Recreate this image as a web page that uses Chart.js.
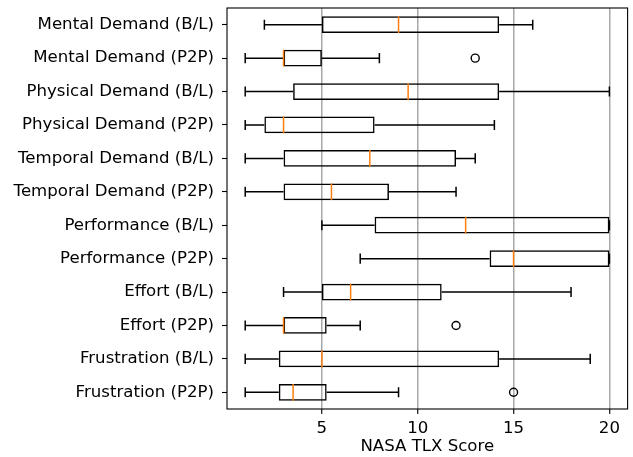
<!DOCTYPE html>
<html>
<head>
<meta charset="utf-8">
<script src="https://cdn.jsdelivr.net/npm/chart.js@4"></script>
<style>
  body { margin: 0; background: #fff; }
  #wrap { width: 633px; height: 457px; }
</style>
</head>
<body>
<div id="wrap"><canvas id="tlx-chart" width="633" height="457"></canvas></div>
<script>
// Box plot data (NASA TLX scores)
const categories = [
    'Mental Demand (B/L)', 'Mental Demand (P2P)',
    'Physical Demand (B/L)', 'Physical Demand (P2P)',
    'Temporal Demand (B/L)', 'Temporal Demand (P2P)',
    'Performance (B/L)', 'Performance (P2P)',
    'Effort (B/L)', 'Effort (P2P)',
    'Frustration (B/L)', 'Frustration (P2P)'
];
const whiskerLow  = [2, 1, 1, 1, 1, 1, 5, 7, 3, 1, 1, 1];
const q1          = [5, 3, 3.5, 2, 3, 3, 7.75, 13.75, 5, 3, 2.75, 2.75];
const medians     = [9, 3, 9.5, 3, 7.5, 5.5, 12.5, 15, 6.5, 3, 5, 3.5];
const q3          = [14.25, 5, 14.25, 7.75, 12, 8.5, 20, 20, 11.25, 5.25, 14.25, 5.25];
const whiskerHigh = [16, 8, 20, 14, 13, 12, 20, 20, 18, 7, 19, 9];
const outliers    = [[], [13], [], [], [], [], [], [], [], [12], [], [15]];
const xTicks      = [5, 10, 15, 20];

const FONT = 'DejaVu Sans';
const FONT_SIZE = 16.6;

// flatten outliers into points on the category axis
const outlierPoints = [];
outliers.forEach((vals, i) => {
    vals.forEach(v => outlierPoints.push({ x: v, y: categories[i] }));
});

// whiskers, caps, medians and the axes frame
const boxExtras = {
    id: 'boxExtras',
    afterDatasetsDraw(chart) {
        const ctx = chart.ctx;
        const xs = chart.scales.x;
        const ys = chart.scales.y;
        ctx.save();
        ctx.lineWidth = 1.5;
        categories.forEach((c, i) => {
            const yc = ys.getPixelForValue(i);
            const capTop = ys.getPixelForValue(i - 0.15);
            const capBot = ys.getPixelForValue(i + 0.15);
            const halfBox = Math.abs(ys.getPixelForValue(i + 0.25) - yc);

            ctx.strokeStyle = '#000';
            ctx.beginPath();
            // lower whisker
            if (whiskerLow[i] < q1[i]) {
                ctx.moveTo(xs.getPixelForValue(whiskerLow[i]), yc);
                ctx.lineTo(xs.getPixelForValue(q1[i]), yc);
            }
            ctx.moveTo(xs.getPixelForValue(whiskerLow[i]), capTop);
            ctx.lineTo(xs.getPixelForValue(whiskerLow[i]), capBot);
            // upper whisker
            if (whiskerHigh[i] > q3[i]) {
                ctx.moveTo(xs.getPixelForValue(q3[i]), yc);
                ctx.lineTo(xs.getPixelForValue(whiskerHigh[i]), yc);
            }
            ctx.moveTo(xs.getPixelForValue(whiskerHigh[i]), capTop);
            ctx.lineTo(xs.getPixelForValue(whiskerHigh[i]), capBot);
            ctx.stroke();

            // median
            ctx.strokeStyle = '#ff7f0e';
            ctx.beginPath();
            const mx = xs.getPixelForValue(medians[i]);
            ctx.moveTo(mx, yc - halfBox);
            ctx.lineTo(mx, yc + halfBox);
            ctx.stroke();
        });

        // frame
        const a = chart.chartArea;
        ctx.strokeStyle = '#000';
        ctx.lineWidth = 1.1;
        ctx.strokeRect(a.left, a.top, a.right - a.left, a.bottom - a.top);
        ctx.restore();
    }
};

new Chart(document.getElementById('tlx-chart'), {
    type: 'bar',
    data: {
        labels: categories,
        datasets: [
            {
                type: 'scatter',
                label: 'Outliers',
                data: outlierPoints,
                pointStyle: 'circle',
                pointRadius: 4,
                pointBackgroundColor: 'rgba(0,0,0,0)',
                pointBorderColor: '#000',
                pointBorderWidth: 1.4
            },
            {
                label: 'IQR',
                data: categories.map((c, i) => [q1[i], q3[i]]),
                backgroundColor: 'rgba(0,0,0,0)',
                borderColor: '#000',
                borderWidth: 1.5,
                borderSkipped: false,
                barPercentage: 0.5,
                categoryPercentage: 1
            }
        ]
    },
    options: {
        indexAxis: 'y',
        responsive: false,
        animation: false,
        layout: { padding: { top: 8, right: 4, left: 0, bottom: 0 } },
        plugins: {
            legend: { display: false },
            tooltip: { enabled: false }
        },
        scales: {
            x: {
                type: 'linear',
                min: 0.05,
                max: 20.95,
                afterBuildTicks: scale => {
                    scale.ticks = xTicks.map(v => ({ value: v }));
                },
                afterFit: scale => {
                    scale.height = 48;
                    scale.paddingLeft = 0;
                    scale.paddingRight = 0;
                },
                grid: {
                    color: '#a8a8a8',
                    lineWidth: 1.5,
                    tickColor: '#000',
                    tickLength: 5,
                    tickWidth: 1.1
                },
                border: { display: false },
                ticks: {
                    color: '#000',
                    padding: 5,
                    font: { family: FONT, size: FONT_SIZE }
                },
                title: {
                    display: true,
                    text: 'NASA TLX Score',
                    color: '#000',
                    padding: { top: 0, bottom: 0 },
                    font: { family: FONT, size: FONT_SIZE }
                }
            },
            y: {
                type: 'category',
                afterFit: scale => {
                    scale.width = 227;
                    scale.paddingTop = 0;
                    scale.paddingBottom = 0;
                },
                grid: {
                    offset: false,
                    drawOnChartArea: false,
                    tickColor: '#000',
                    tickLength: 5,
                    tickWidth: 1.1
                },
                border: { display: false },
                ticks: {
                    color: '#000',
                    padding: 8,
                    autoSkip: false,
                    font: { family: FONT, size: FONT_SIZE }
                }
            }
        }
    },
    plugins: [boxExtras]
});
</script>
</body>
</html>
